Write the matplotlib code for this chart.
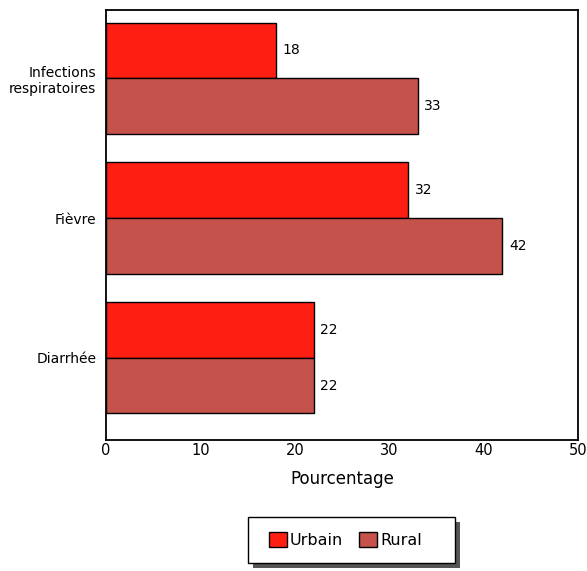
import numpy as np
import matplotlib.pyplot as plt
from matplotlib.patches import Patch, Rectangle

categories = ["Infections\nrespiratoires", "Fièvre", "Diarrhée"]
urbain = [18, 32, 22]
rural = [33, 42, 22]
xticks = [0, 10, 20, 30, 40, 50]

c_urb = '#fe1f12'
c_rur = '#c6524c'

W, H = 587, 571
fig = plt.figure(figsize=(W / 100, H / 100), dpi=100)
ax = fig.add_axes([0.1806, 0.2294, 0.8041, 0.7531])

pos = np.arange(len(categories))[::-1]
h = 0.4
ax.barh(pos + h / 2, urbain, height=h, color=c_urb, edgecolor='black', linewidth=1)
ax.barh(pos - h / 2, rural, height=h, color=c_rur, edgecolor='black', linewidth=1)

for p, u, r in zip(pos, urbain, rural):
    ax.text(u + 0.7, p + h / 2, str(u), va='center', ha='left', fontsize=10)
    ax.text(r + 0.7, p - h / 2, str(r), va='center', ha='left', fontsize=10)

ax.set_xlim(0, 50)
ax.set_ylim(-0.59, 2.49)
ax.set_xticks(xticks)
ax.set_xticklabels([str(t) for t in xticks], fontsize=10.5)
ax.set_yticks(pos)
ax.set_yticklabels(categories, fontsize=10, linespacing=1.15)
ax.tick_params(axis='y', length=0, pad=7)
ax.tick_params(axis='x', length=0, pad=2)
ax.set_xlabel("Pourcentage", fontsize=12, labelpad=9)
for s in ax.spines.values():
    s.set_linewidth(1.3)

# legend box with shadow
bx, by, bw, bh = 248, 517, 207, 46
sh = Rectangle(((bx + 5) / W, 1 - (by + bh + 5) / H), bw / W, bh / H,
               transform=fig.transFigure, facecolor='#555555', edgecolor='none', zorder=1)
box = Rectangle((bx / W, 1 - (by + bh) / H), bw / W, bh / H,
                transform=fig.transFigure, facecolor='white', edgecolor='black', linewidth=1, zorder=2)
fig.patches.extend([sh, box])

handles = [Patch(facecolor=c_urb, edgecolor='black'), Patch(facecolor=c_rur, edgecolor='black')]
leg = fig.legend(handles, ["Urbain", "Rural"], loc='center',
                 bbox_to_anchor=((bx + bw / 2 - 6) / W, 1 - (by + bh / 2) / H),
                 ncol=2, frameon=False, fontsize=11.5, handlelength=1.1, handleheight=1.1,
                 handletextpad=0.2, columnspacing=1.0, borderaxespad=0)
leg.set_zorder(3)

fig.savefig("out.png", dpi=100)
